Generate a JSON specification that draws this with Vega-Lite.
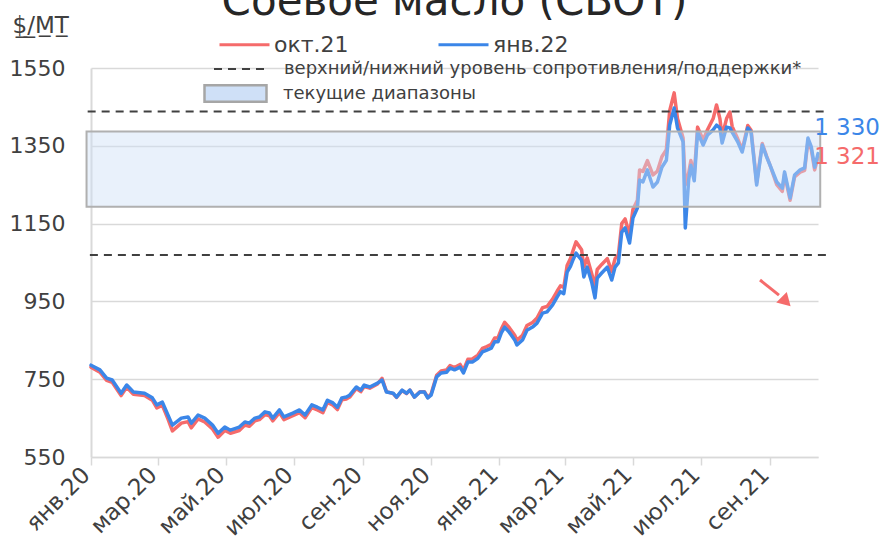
{
  "$schema": "https://vega.github.io/schema/vega-lite/v6.json",
  "width": 727,
  "height": 389,
  "autosize": {"type": "none"},
  "padding": {"left": 91, "top": 68, "right": 68, "bottom": 102},
  "background": "white",
  "config": {
    "font": "DejaVu Sans",
    "view": {"stroke": null},
    "legend": {"padding": 0, "labelFont": "DejaVu Sans", "labelColor": "#404040", "labelLimit": 0}
  },
  "title": {
    "text": "Соевое масло (CBOT)",
    "fontSize": 42,
    "font": "DejaVu Sans",
    "fontWeight": "normal",
    "color": "#262626",
    "anchor": "middle",
    "offset": -10
  },
  "datasets": {
    "prices": [
      {"d":"2020-01-01","s":"окт.21","v":781},{"d":"2020-01-09","s":"окт.21","v":768},{"d":"2020-01-15","s":"окт.21","v":747},{"d":"2020-01-20","s":"окт.21","v":742},{"d":"2020-01-28","s":"окт.21","v":708},{"d":"2020-02-02","s":"окт.21","v":729},{"d":"2020-02-08","s":"окт.21","v":711},{"d":"2020-02-18","s":"окт.21","v":708},{"d":"2020-02-25","s":"окт.21","v":696},{"d":"2020-02-29","s":"окт.21","v":676},{"d":"2020-03-05","s":"окт.21","v":683},{"d":"2020-03-10","s":"окт.21","v":648},{"d":"2020-03-14","s":"окт.21","v":617},{"d":"2020-03-22","s":"окт.21","v":637},{"d":"2020-03-28","s":"окт.21","v":641},{"d":"2020-03-31","s":"окт.21","v":625},{"d":"2020-04-06","s":"окт.21","v":648},{"d":"2020-04-12","s":"окт.21","v":640},{"d":"2020-04-19","s":"окт.21","v":622},{"d":"2020-04-24","s":"окт.21","v":601},{"d":"2020-04-30","s":"окт.21","v":618},{"d":"2020-05-05","s":"окт.21","v":611},{"d":"2020-05-13","s":"окт.21","v":618},{"d":"2020-05-18","s":"окт.21","v":632},{"d":"2020-05-22","s":"окт.21","v":629},{"d":"2020-05-27","s":"окт.21","v":643},{"d":"2020-05-31","s":"окт.21","v":646},{"d":"2020-06-05","s":"окт.21","v":659},{"d":"2020-06-09","s":"окт.21","v":656},{"d":"2020-06-12","s":"окт.21","v":643},{"d":"2020-06-18","s":"окт.21","v":664},{"d":"2020-06-22","s":"окт.21","v":646},{"d":"2020-06-30","s":"окт.21","v":656},{"d":"2020-07-06","s":"окт.21","v":664},{"d":"2020-07-11","s":"окт.21","v":651},{"d":"2020-07-17","s":"окт.21","v":677},{"d":"2020-07-22","s":"окт.21","v":671},{"d":"2020-07-27","s":"окт.21","v":664},{"d":"2020-07-31","s":"окт.21","v":690},{"d":"2020-08-05","s":"окт.21","v":683},{"d":"2020-08-09","s":"окт.21","v":672},{"d":"2020-08-13","s":"окт.21","v":697},{"d":"2020-08-17","s":"окт.21","v":699},{"d":"2020-08-20","s":"окт.21","v":704},{"d":"2020-08-26","s":"окт.21","v":726},{"d":"2020-08-30","s":"окт.21","v":718},{"d":"2020-09-02","s":"окт.21","v":731},{"d":"2020-09-07","s":"окт.21","v":727},{"d":"2020-09-14","s":"окт.21","v":738},{"d":"2020-09-18","s":"окт.21","v":752},{"d":"2020-09-22","s":"окт.21","v":718},{"d":"2020-09-28","s":"окт.21","v":713},{"d":"2020-10-01","s":"окт.21","v":703},{"d":"2020-10-06","s":"окт.21","v":721},{"d":"2020-10-10","s":"окт.21","v":713},{"d":"2020-10-13","s":"окт.21","v":722},{"d":"2020-10-17","s":"окт.21","v":704},{"d":"2020-10-22","s":"окт.21","v":718},{"d":"2020-10-26","s":"окт.21","v":718},{"d":"2020-10-29","s":"окт.21","v":703},{"d":"2020-11-01","s":"окт.21","v":712},{"d":"2020-11-06","s":"окт.21","v":760},{"d":"2020-11-10","s":"окт.21","v":771},{"d":"2020-11-15","s":"окт.21","v":774},{"d":"2020-11-18","s":"окт.21","v":785},{"d":"2020-11-22","s":"окт.21","v":780},{"d":"2020-11-27","s":"окт.21","v":788},{"d":"2020-11-30","s":"окт.21","v":773},{"d":"2020-12-04","s":"окт.21","v":801},{"d":"2020-12-08","s":"окт.21","v":802},{"d":"2020-12-13","s":"окт.21","v":812},{"d":"2020-12-17","s":"окт.21","v":829},{"d":"2020-12-21","s":"окт.21","v":834},{"d":"2020-12-25","s":"окт.21","v":840},{"d":"2020-12-28","s":"окт.21","v":856},{"d":"2020-12-31","s":"окт.21","v":856},{"d":"2021-01-03","s":"окт.21","v":879},{"d":"2021-01-06","s":"окт.21","v":896},{"d":"2021-01-10","s":"окт.21","v":883},{"d":"2021-01-15","s":"окт.21","v":863},{"d":"2021-01-17","s":"окт.21","v":850},{"d":"2021-01-22","s":"окт.21","v":863},{"d":"2021-01-26","s":"окт.21","v":888},{"d":"2021-01-31","s":"окт.21","v":896},{"d":"2021-02-04","s":"окт.21","v":907},{"d":"2021-02-09","s":"окт.21","v":934},{"d":"2021-02-13","s":"окт.21","v":937},{"d":"2021-02-18","s":"окт.21","v":956},{"d":"2021-02-22","s":"окт.21","v":976},{"d":"2021-02-25","s":"окт.21","v":990},{"d":"2021-02-28","s":"окт.21","v":986},{"d":"2021-03-03","s":"окт.21","v":1042},{"d":"2021-03-06","s":"окт.21","v":1060},{"d":"2021-03-08","s":"окт.21","v":1078},{"d":"2021-03-11","s":"окт.21","v":1103},{"d":"2021-03-16","s":"окт.21","v":1083},{"d":"2021-03-18","s":"окт.21","v":1038},{"d":"2021-03-21","s":"окт.21","v":1062},{"d":"2021-03-25","s":"окт.21","v":1022},{"d":"2021-03-28","s":"окт.21","v":990},{"d":"2021-03-30","s":"окт.21","v":1032},{"d":"2021-04-03","s":"окт.21","v":1045},{"d":"2021-04-08","s":"окт.21","v":1060},{"d":"2021-04-12","s":"окт.21","v":1027},{"d":"2021-04-15","s":"окт.21","v":1060},{"d":"2021-04-18","s":"окт.21","v":1070},{"d":"2021-04-21","s":"окт.21","v":1150},{"d":"2021-04-24","s":"окт.21","v":1162},{"d":"2021-04-28","s":"окт.21","v":1122},{"d":"2021-05-01","s":"окт.21","v":1186},{"d":"2021-05-05","s":"окт.21","v":1210},{"d":"2021-05-07","s":"окт.21","v":1288},{"d":"2021-05-10","s":"окт.21","v":1284},{"d":"2021-05-14","s":"окт.21","v":1312},{"d":"2021-05-19","s":"окт.21","v":1275},{"d":"2021-05-23","s":"окт.21","v":1285},{"d":"2021-05-27","s":"окт.21","v":1322},{"d":"2021-05-31","s":"окт.21","v":1340},{"d":"2021-06-03","s":"окт.21","v":1440},{"d":"2021-06-07","s":"окт.21","v":1486},{"d":"2021-06-10","s":"окт.21","v":1420},{"d":"2021-06-15","s":"окт.21","v":1370},{"d":"2021-06-17","s":"окт.21","v":1250},{"d":"2021-06-20","s":"окт.21","v":1280},{"d":"2021-06-22","s":"окт.21","v":1312},{"d":"2021-06-25","s":"окт.21","v":1275},{"d":"2021-06-28","s":"окт.21","v":1398},{"d":"2021-07-03","s":"окт.21","v":1365},{"d":"2021-07-07","s":"окт.21","v":1392},{"d":"2021-07-12","s":"окт.21","v":1420},{"d":"2021-07-15","s":"окт.21","v":1455},{"d":"2021-07-18","s":"окт.21","v":1420},{"d":"2021-07-20","s":"окт.21","v":1375},{"d":"2021-07-24","s":"окт.21","v":1420},{"d":"2021-07-27","s":"окт.21","v":1437},{"d":"2021-07-29","s":"окт.21","v":1400},{"d":"2021-08-03","s":"окт.21","v":1368},{"d":"2021-08-07","s":"окт.21","v":1340},{"d":"2021-08-12","s":"окт.21","v":1402},{"d":"2021-08-15","s":"окт.21","v":1390},{"d":"2021-08-20","s":"окт.21","v":1255},{"d":"2021-08-25","s":"окт.21","v":1356},{"d":"2021-08-29","s":"окт.21","v":1323},{"d":"2021-09-01","s":"окт.21","v":1300},{"d":"2021-09-07","s":"окт.21","v":1250},{"d":"2021-09-12","s":"окт.21","v":1233},{"d":"2021-09-14","s":"окт.21","v":1277},{"d":"2021-09-19","s":"окт.21","v":1210},{"d":"2021-09-23","s":"окт.21","v":1270},{"d":"2021-09-28","s":"окт.21","v":1282},{"d":"2021-10-02","s":"окт.21","v":1287},{"d":"2021-10-05","s":"окт.21","v":1362},{"d":"2021-10-08","s":"окт.21","v":1340},{"d":"2021-10-11","s":"окт.21","v":1288},{"d":"2021-10-14","s":"окт.21","v":1321},
      {"d":"2020-01-01","s":"янв.22","v":786},{"d":"2020-01-09","s":"янв.22","v":774},{"d":"2020-01-15","s":"янв.22","v":753},{"d":"2020-01-20","s":"янв.22","v":748},{"d":"2020-01-28","s":"янв.22","v":714},{"d":"2020-02-02","s":"янв.22","v":735},{"d":"2020-02-08","s":"янв.22","v":717},{"d":"2020-02-18","s":"янв.22","v":714},{"d":"2020-02-25","s":"янв.22","v":702},{"d":"2020-02-29","s":"янв.22","v":684},{"d":"2020-03-05","s":"янв.22","v":691},{"d":"2020-03-10","s":"янв.22","v":658},{"d":"2020-03-14","s":"янв.22","v":632},{"d":"2020-03-22","s":"янв.22","v":650},{"d":"2020-03-28","s":"янв.22","v":653},{"d":"2020-03-31","s":"янв.22","v":637},{"d":"2020-04-06","s":"янв.22","v":658},{"d":"2020-04-12","s":"янв.22","v":650},{"d":"2020-04-19","s":"янв.22","v":632},{"d":"2020-04-24","s":"янв.22","v":611},{"d":"2020-04-30","s":"янв.22","v":627},{"d":"2020-05-05","s":"янв.22","v":619},{"d":"2020-05-13","s":"янв.22","v":627},{"d":"2020-05-18","s":"янв.22","v":640},{"d":"2020-05-22","s":"янв.22","v":637},{"d":"2020-05-27","s":"янв.22","v":650},{"d":"2020-05-31","s":"янв.22","v":653},{"d":"2020-06-05","s":"янв.22","v":666},{"d":"2020-06-09","s":"янв.22","v":663},{"d":"2020-06-12","s":"янв.22","v":650},{"d":"2020-06-18","s":"янв.22","v":671},{"d":"2020-06-22","s":"янв.22","v":653},{"d":"2020-06-30","s":"янв.22","v":663},{"d":"2020-07-06","s":"янв.22","v":671},{"d":"2020-07-11","s":"янв.22","v":658},{"d":"2020-07-17","s":"янв.22","v":684},{"d":"2020-07-22","s":"янв.22","v":678},{"d":"2020-07-27","s":"янв.22","v":671},{"d":"2020-07-31","s":"янв.22","v":696},{"d":"2020-08-05","s":"янв.22","v":689},{"d":"2020-08-09","s":"янв.22","v":678},{"d":"2020-08-13","s":"янв.22","v":702},{"d":"2020-08-17","s":"янв.22","v":704},{"d":"2020-08-20","s":"янв.22","v":709},{"d":"2020-08-26","s":"янв.22","v":730},{"d":"2020-08-30","s":"янв.22","v":722},{"d":"2020-09-02","s":"янв.22","v":735},{"d":"2020-09-07","s":"янв.22","v":730},{"d":"2020-09-14","s":"янв.22","v":740},{"d":"2020-09-18","s":"янв.22","v":748},{"d":"2020-09-22","s":"янв.22","v":717},{"d":"2020-09-28","s":"янв.22","v":714},{"d":"2020-10-01","s":"янв.22","v":704},{"d":"2020-10-06","s":"янв.22","v":722},{"d":"2020-10-10","s":"янв.22","v":714},{"d":"2020-10-13","s":"янв.22","v":722},{"d":"2020-10-17","s":"янв.22","v":704},{"d":"2020-10-22","s":"янв.22","v":717},{"d":"2020-10-26","s":"янв.22","v":717},{"d":"2020-10-29","s":"янв.22","v":702},{"d":"2020-11-01","s":"янв.22","v":709},{"d":"2020-11-06","s":"янв.22","v":756},{"d":"2020-11-10","s":"янв.22","v":766},{"d":"2020-11-15","s":"янв.22","v":768},{"d":"2020-11-18","s":"янв.22","v":779},{"d":"2020-11-22","s":"янв.22","v":774},{"d":"2020-11-27","s":"янв.22","v":781},{"d":"2020-11-30","s":"янв.22","v":766},{"d":"2020-12-04","s":"янв.22","v":794},{"d":"2020-12-08","s":"янв.22","v":794},{"d":"2020-12-13","s":"янв.22","v":804},{"d":"2020-12-17","s":"янв.22","v":820},{"d":"2020-12-21","s":"янв.22","v":825},{"d":"2020-12-25","s":"янв.22","v":830},{"d":"2020-12-28","s":"янв.22","v":846},{"d":"2020-12-31","s":"янв.22","v":846},{"d":"2021-01-03","s":"янв.22","v":869},{"d":"2021-01-06","s":"янв.22","v":884},{"d":"2021-01-10","s":"янв.22","v":871},{"d":"2021-01-15","s":"янв.22","v":851},{"d":"2021-01-17","s":"янв.22","v":838},{"d":"2021-01-22","s":"янв.22","v":851},{"d":"2021-01-26","s":"янв.22","v":876},{"d":"2021-01-31","s":"янв.22","v":884},{"d":"2021-02-04","s":"янв.22","v":894},{"d":"2021-02-09","s":"янв.22","v":920},{"d":"2021-02-13","s":"янв.22","v":923},{"d":"2021-02-18","s":"янв.22","v":941},{"d":"2021-02-22","s":"янв.22","v":961},{"d":"2021-02-25","s":"янв.22","v":975},{"d":"2021-02-28","s":"янв.22","v":970},{"d":"2021-03-03","s":"янв.22","v":1025},{"d":"2021-03-06","s":"янв.22","v":1040},{"d":"2021-03-08","s":"янв.22","v":1055},{"d":"2021-03-11","s":"янв.22","v":1074},{"d":"2021-03-16","s":"янв.22","v":1056},{"d":"2021-03-18","s":"янв.22","v":1013},{"d":"2021-03-21","s":"янв.22","v":1038},{"d":"2021-03-25","s":"янв.22","v":1000},{"d":"2021-03-28","s":"янв.22","v":959},{"d":"2021-03-30","s":"янв.22","v":1010},{"d":"2021-04-03","s":"янв.22","v":1023},{"d":"2021-04-08","s":"янв.22","v":1038},{"d":"2021-04-12","s":"янв.22","v":1005},{"d":"2021-04-15","s":"янв.22","v":1038},{"d":"2021-04-18","s":"янв.22","v":1049},{"d":"2021-04-21","s":"янв.22","v":1128},{"d":"2021-04-24","s":"янв.22","v":1139},{"d":"2021-04-28","s":"янв.22","v":1100},{"d":"2021-05-01","s":"янв.22","v":1164},{"d":"2021-05-05","s":"янв.22","v":1190},{"d":"2021-05-07","s":"янв.22","v":1262},{"d":"2021-05-10","s":"янв.22","v":1257},{"d":"2021-05-14","s":"янв.22","v":1288},{"d":"2021-05-19","s":"янв.22","v":1244},{"d":"2021-05-23","s":"янв.22","v":1257},{"d":"2021-05-27","s":"янв.22","v":1295},{"d":"2021-05-31","s":"янв.22","v":1313},{"d":"2021-06-03","s":"янв.22","v":1403},{"d":"2021-06-07","s":"янв.22","v":1447},{"d":"2021-06-10","s":"янв.22","v":1396},{"d":"2021-06-15","s":"янв.22","v":1360},{"d":"2021-06-17","s":"янв.22","v":1139},{"d":"2021-06-20","s":"янв.22","v":1262},{"d":"2021-06-22","s":"янв.22","v":1300},{"d":"2021-06-25","s":"янв.22","v":1260},{"d":"2021-06-28","s":"янв.22","v":1385},{"d":"2021-07-03","s":"янв.22","v":1352},{"d":"2021-07-07","s":"янв.22","v":1378},{"d":"2021-07-12","s":"янв.22","v":1391},{"d":"2021-07-15","s":"янв.22","v":1403},{"d":"2021-07-18","s":"янв.22","v":1396},{"d":"2021-07-20","s":"янв.22","v":1357},{"d":"2021-07-24","s":"янв.22","v":1398},{"d":"2021-07-27","s":"янв.22","v":1396},{"d":"2021-07-29","s":"янв.22","v":1385},{"d":"2021-08-03","s":"янв.22","v":1360},{"d":"2021-08-07","s":"янв.22","v":1334},{"d":"2021-08-12","s":"янв.22","v":1396},{"d":"2021-08-15","s":"янв.22","v":1385},{"d":"2021-08-20","s":"янв.22","v":1249},{"d":"2021-08-25","s":"янв.22","v":1352},{"d":"2021-08-29","s":"янв.22","v":1321},{"d":"2021-09-01","s":"янв.22","v":1300},{"d":"2021-09-07","s":"янв.22","v":1257},{"d":"2021-09-12","s":"янв.22","v":1241},{"d":"2021-09-14","s":"янв.22","v":1283},{"d":"2021-09-19","s":"янв.22","v":1216},{"d":"2021-09-23","s":"янв.22","v":1275},{"d":"2021-09-28","s":"янв.22","v":1288},{"d":"2021-10-02","s":"янв.22","v":1293},{"d":"2021-10-05","s":"янв.22","v":1370},{"d":"2021-10-08","s":"янв.22","v":1347},{"d":"2021-10-11","s":"янв.22","v":1295},{"d":"2021-10-14","s":"янв.22","v":1330}
    ],
    "band": [{"start":"2019-12-28","end":"2021-10-16","lo":1193,"hi":1387,"k":"текущие диапазоны"}],
    "levels": [
      {"start":"2019-12-29","end":"2021-10-23","v":1438,"k":"верхний/нижний уровень сопротивления/поддержки*"},
      {"start":"2019-12-31","end":"2021-10-23","v":1069,"k":"верхний/нижний уровень сопротивления/поддержки*"}
    ],
    "lastBlue": [{"d":"2021-10-14","v":1330,"t":"1 330"}],
    "lastRed": [{"d":"2021-10-14","v":1321,"t":"1 321"}],
    "arrow": [{"d1":"2021-08-23","v1":1005,"d2":"2021-09-09","v2":966}],
    "arrowHead": [{"d":"2021-09-14","v":953}]
  },
  "layer": [
    {
      "data": {"name": "prices"},
      "mark": {"type": "line", "strokeWidth": 3.5, "strokeJoin": "round", "strokeCap": "round"},
      "encoding": {
        "x": {
          "field": "d", "type": "temporal",
          "scale": {"type": "utc", "domain": [{"year": 2020, "month": 1, "date": 1, "utc": true}, {"year": 2021, "month": 10, "date": 14, "utc": true}]},
          "axis": {
            "title": null,
            "values": [
              {"year": 2020, "month": 1, "date": 1, "utc": true},
              {"year": 2020, "month": 3, "date": 1, "utc": true},
              {"year": 2020, "month": 5, "date": 1, "utc": true},
              {"year": 2020, "month": 7, "date": 1, "utc": true},
              {"year": 2020, "month": 9, "date": 1, "utc": true},
              {"year": 2020, "month": 11, "date": 1, "utc": true},
              {"year": 2021, "month": 1, "date": 1, "utc": true},
              {"year": 2021, "month": 3, "date": 1, "utc": true},
              {"year": 2021, "month": 5, "date": 1, "utc": true},
              {"year": 2021, "month": 7, "date": 1, "utc": true},
              {"year": 2021, "month": 9, "date": 1, "utc": true}
            ],
            "labelExpr": "['янв','фев','мар','апр','май','июн','июл','авг','сен','окт','ноя','дек'][utcmonth(datum.value)] + '.' + utcFormat(datum.value, '%y')",
            "labelAngle": -45,
            "labelAlign": "right",
            "labelBaseline": "middle",
            "labelOffset": -5,
            "labelFontSize": 23,
            "labelColor": "#404040",
            "labelFont": "DejaVu Sans",
            "labelPadding": 6,
            "tickSize": 8,
            "tickColor": "#d9d9d9",
            "tickWidth": 1.5,
            "domainColor": "#d9d9d9",
            "domainWidth": 1.5,
            "grid": false,
            "labelOverlap": false
          }
        },
        "y": {
          "field": "v", "type": "quantitative",
          "scale": {"domain": [550, 1550], "nice": false, "zero": false},
          "axis": {
            "values": [550, 750, 950, 1150, 1350, 1550],
            "format": "d",
            "title": "$\u0332/\u0332M\u0332T\u0332",
            "titleAngle": 0,
            "titleX": -79,
            "titleY": -36,
            "titleAlign": "left",
            "titleBaseline": "alphabetic",
            "titleFontSize": 23,
            "titleFontWeight": "normal",
            "titleColor": "#404040",
            "titleFont": "DejaVu Sans",
            "labelFontSize": 22,
            "labelColor": "#404040",
            "labelFont": "DejaVu Sans",
            "labelPadding": 26,
            "ticks": false,
            "domain": true,
            "domainColor": "#d9d9d9",
            "domainWidth": 2,
            "grid": true,
            "gridColor": "#d9d9d9",
            "gridWidth": 1.5
          }
        },
        "color": {
          "field": "s", "type": "nominal",
          "scale": {"domain": ["окт.21", "янв.22"], "range": ["#f56b6b", "#3b86e8"]},
          "legend": {
            "orient": "none", "legendX": 127, "legendY": -50, "direction": "horizontal", "title": null,
            "symbolType": "stroke", "symbolSize": 2500, "symbolStrokeWidth": 3,
            "labelFontSize": 22, "labelOffset": 3, "columnPadding": 83
          }
        }
      }
    },
    {
      "data": {"name": "band"},
      "mark": {"type": "rect", "fillOpacity": 0.45, "stroke": "#b0b0b0", "strokeWidth": 2, "strokeOpacity": 1},
      "encoding": {
        "x": {"field": "start", "type": "temporal"},
        "x2": {"field": "end"},
        "y": {"field": "lo", "type": "quantitative"},
        "y2": {"field": "hi"},
        "fill": {
          "field": "k", "type": "nominal",
          "scale": {"domain": ["текущие диапазоны"], "range": ["#cfe0f7"]},
          "legend": {
            "orient": "none", "legendX": 112, "legendY": -7, "title": null,
            "symbolType": "M-1,-0.27H1V0.27H-1Z", "symbolSize": 3844,
            "symbolStrokeColor": "#a6a6a6", "symbolStrokeWidth": 2.5, "symbolFillColor": "#d6e6fa", "symbolOpacity": 1,
            "labelFontSize": 18, "labelOffset": 15
          }
        }
      }
    },
    {
      "data": {"name": "levels"},
      "mark": {"type": "rule", "strokeWidth": 2, "color": "#404040"},
      "encoding": {
        "x": {"field": "start", "type": "temporal"},
        "x2": {"field": "end"},
        "y": {"field": "v", "type": "quantitative"},
        "strokeDash": {
          "field": "k", "type": "nominal",
          "scale": {"domain": ["верхний/нижний уровень сопротивления/поддержки*"], "range": [[8, 6]]},
          "legend": {
            "orient": "none", "legendX": 122, "legendY": -26, "title": null,
            "symbolType": "stroke", "symbolSize": 2704, "symbolStrokeWidth": 2, "symbolStrokeColor": "#404040",
            "labelFontSize": 18, "labelOffset": 17
          }
        }
      }
    },
    {
      "data": {"name": "lastBlue"},
      "mark": {"type": "text", "align": "right", "baseline": "middle", "dx": 62, "dy": -26, "fontSize": 23, "color": "#3b86e8", "font": "DejaVu Sans"},
      "encoding": {
        "x": {"field": "d", "type": "temporal"},
        "y": {"field": "v", "type": "quantitative"},
        "text": {"field": "t"}
      }
    },
    {
      "data": {"name": "lastRed"},
      "mark": {"type": "text", "align": "right", "baseline": "middle", "dx": 62, "dy": 0, "fontSize": 23, "color": "#f56b6b", "font": "DejaVu Sans"},
      "encoding": {
        "x": {"field": "d", "type": "temporal"},
        "y": {"field": "v", "type": "quantitative"},
        "text": {"field": "t"}
      }
    },
    {
      "data": {"name": "arrow"},
      "mark": {"type": "rule", "strokeWidth": 3, "color": "#f56b6b"},
      "encoding": {
        "x": {"field": "d1", "type": "temporal"},
        "x2": {"field": "d2"},
        "y": {"field": "v1", "type": "quantitative"},
        "y2": {"field": "v2"}
      }
    },
    {
      "data": {"name": "arrowHead"},
      "mark": {"type": "point", "shape": "triangle", "filled": true, "size": 220, "angle": 135, "color": "#f56b6b", "opacity": 1},
      "encoding": {
        "x": {"field": "d", "type": "temporal"},
        "y": {"field": "v", "type": "quantitative"}
      }
    }
  ]
}
